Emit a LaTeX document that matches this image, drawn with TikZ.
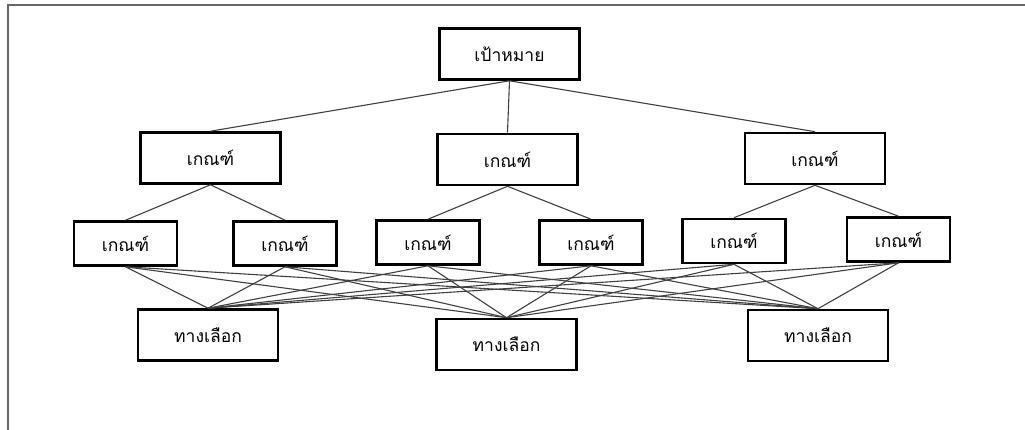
\documentclass[tikz,border=0pt]{standalone}
\usepackage{fontspec}
\newfontfamily\thaifont[Script=Thai]{Loma}
\begin{document}
\begin{tikzpicture}[x=1pt,y=-1pt,
  box/.style={draw=black, line width=2.6pt, fill=white, font=\thaifont\fontsize{17.5}{20}\selectfont, inner sep=0pt},
  bigbox/.style={box, minimum width=140, minimum height=51},
  smallbox/.style={box, minimum width=103, minimum height=44},
  link/.style={draw=black!75, line width=1.1pt},
  frame/.style={draw=black!60, line width=2pt}]
\useasboundingbox (0,0) rectangle (1025,430);
% page frame (top and left edges)
\coordinate (f0) at (7.5,430);
\coordinate (f1) at (7.5,5.5);
\coordinate (f2) at (1025,5.5);
\draw[frame] (f0) -- (f1) -- (f2);

% goal
\node[bigbox] (goal) at (509.5,54) {เป้าหมาย};
% main criteria
\node[bigbox] (c1) at (210.5,158) {เกณฑ์};
\node[bigbox] (c2) at (507.5,159.5) {เกณฑ์};
\node[bigbox] (c3) at (815,158.5) {เกณฑ์};
% sub-criteria
\node[smallbox] (s11) at (125.5,243.5) {เกณฑ์};
\node[smallbox] (s12) at (285,243.5) {เกณฑ์};
\node[smallbox] (s21) at (428,242.5) {เกณฑ์};
\node[smallbox] (s22) at (591,242.5) {เกณฑ์};
\node[smallbox] (s31) at (734,241) {เกณฑ์};
\node[smallbox] (s32) at (898.5,239.5) {เกณฑ์};
% alternatives
\node[bigbox] (a1) at (208,335) {ทางเลือก};
\node[bigbox] (a2) at (506.5,344.5) {ทางเลือก};
\node[bigbox] (a3) at (818,335.5) {ทางเลือก};

% connectors: goal -> criteria -> sub-criteria -> every alternative
\foreach \c in {c1,c2,c3} \draw[link] (goal.south) -- (\c.north);
\draw[link] (c1.south) -- (s11.north);
\draw[link] (c1.south) -- (s12.north);
\draw[link] (c2.south) -- (s21.north);
\draw[link] (c2.south) -- (s22.north);
\draw[link] (c3.south) -- (s31.north);
\draw[link] (c3.south) -- (s32.north);
\foreach \s in {s11,s12,s21,s22,s31,s32}
  \foreach \a in {a1,a2,a3}
    \draw[link] (\s.south) -- (\a.north);
\end{tikzpicture}
\end{document}
